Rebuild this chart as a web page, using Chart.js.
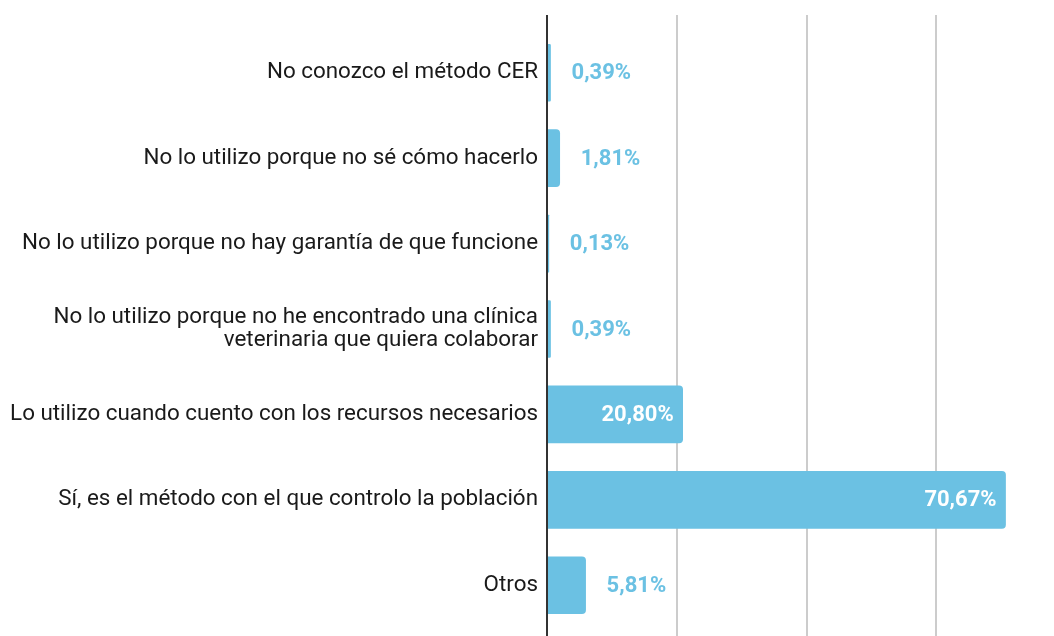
<!DOCTYPE html>
<html lang="es">
<head>
<meta charset="utf-8">
<title>Método CER</title>
<script src="https://cdn.jsdelivr.net/npm/chart.js@4"></script>
<style>
	html, body { margin: 0; padding: 0; background: #fff; }
	#wrap { width: 1054px; height: 636px; position: relative; }
</style>
</head>
<body>
<div id="wrap"><canvas id="cerChart"></canvas></div>
<script>
	var categories = [
		'No conozco el método CER',
		'No lo utilizo porque no sé cómo hacerlo',
		'No lo utilizo porque no hay garantía de que funcione',
		[ 'No lo utilizo porque no he encontrado una clínica', 'veterinaria que quiera colaborar' ],
		'Lo utilizo cuando cuento con los recursos necesarios',
		'Sí, es el método con el que controlo la población',
		'Otros'
	];
	var percentages = [ 0.39, 1.81, 0.13, 0.39, 20.80, 70.67, 5.81 ];
	var gridValues  = [ 20, 40, 60 ];

	var BAR_COLOR = '#6bc1e3';
	var FONT      = 'Roboto, "Noto Sans", sans-serif';

	function fmtPct( v ) {
		return v.toFixed( 2 ).replace( '.', ',' ) + '%';
	}

	/* ═══ GRID + AXIS LINE (full height like the original) ═══ */

	var gridPlugin = {
		id: 'fullGrid',
		beforeDatasetsDraw: function( chart ) {
			var ctx = chart.ctx;
			var x   = chart.scales.x;
			ctx.save();
			ctx.lineWidth = 2;
			ctx.strokeStyle = '#cccccc';
			gridValues.forEach( function( v ) {
				var px = Math.round( x.getPixelForValue( v ) );
				ctx.beginPath();
				ctx.moveTo( px, 15 );
				ctx.lineTo( px, chart.height );
				ctx.stroke();
			});
			ctx.restore();
		},
		afterDatasetsDraw: function( chart ) {
			var ctx = chart.ctx;
			var px  = Math.round( chart.scales.x.getPixelForValue( 0 ) ) - 1;
			ctx.save();
			ctx.lineWidth = 2;
			ctx.strokeStyle = '#333333';
			ctx.beginPath();
			ctx.moveTo( px, 15 );
			ctx.lineTo( px, chart.height );
			ctx.stroke();
			ctx.restore();
		}
	};

	/* ═══ VALUE LABELS ═══ */

	var valuePlugin = {
		id: 'valueLabels',
		afterDatasetsDraw: function( chart ) {
			var ctx  = chart.ctx;
			var meta = chart.getDatasetMeta( 0 );
			ctx.save();
			ctx.font = 'bold 22px ' + FONT;
			ctx.textBaseline = 'middle';
			meta.data.forEach( function( bar, i ) {
				var text = fmtPct( percentages[i] );
				var w    = bar.x - bar.base;
				var tw   = ctx.measureText( text ).width;
				if ( w > tw + 20 ) {
					ctx.fillStyle = '#ffffff';
					ctx.textAlign = 'right';
					ctx.fillText( text, bar.x - 9, bar.y + 1 );
				} else {
					ctx.fillStyle = BAR_COLOR;
					ctx.textAlign = 'left';
					ctx.fillText( text, bar.x + 21, bar.y + 1 );
				}
			});
			ctx.restore();
		}
	};

	new Chart( document.getElementById( 'cerChart' ).getContext( '2d' ), {
		type: 'bar',
		data: {
			labels: categories,
			datasets: [{
				data: percentages,
				backgroundColor: BAR_COLOR,
				borderWidth: 0,
				borderRadius: 4,
				borderSkipped: 'start',
				barThickness: 57
			}]
		},
		options: {
			indexAxis: 'y',
			responsive: true,
			maintainAspectRatio: false,
			animation: false,
			layout: { padding: { top: 30, bottom: 8, left: 0, right: 1 } },
			plugins: {
				legend: { display: false },
				tooltip: { enabled: false }
			},
			scales: {
				x: {
					display: false,
					min: 0,
					max: 78
				},
				y: {
					grid: { display: false, drawTicks: false },
					border: { display: false },
					ticks: {
						color: '#1a1a1a',
						padding: 10,
						font: { family: FONT, size: 22.4, lineHeight: 1.03 }
					},
					afterFit: function( scale ) {
						scale.width = 548;
						scale.paddingTop = 0;
						scale.paddingBottom = 0;
					}
				}
			}
		},
		plugins: [ gridPlugin, valuePlugin ]
	});
</script>
</body>
</html>
